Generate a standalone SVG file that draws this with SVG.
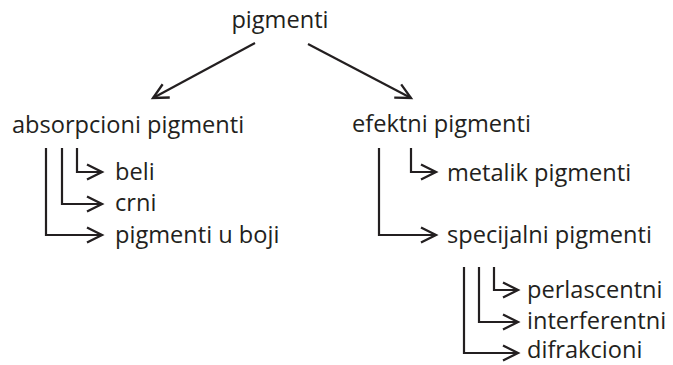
<svg xmlns="http://www.w3.org/2000/svg" width="673" height="365" viewBox="0 0 673 365">
<defs>
<style>
text{font-family:"Open Sans","Noto Sans","Liberation Sans",sans-serif;font-size:23.6px;fill:#231f20}
.c path,.c line{fill:none;stroke:#231f20;stroke-width:2.2}
</style>
<marker id="ah" markerUnits="userSpaceOnUse" viewBox="-17 -10 20 20" refX="0" refY="0" markerWidth="20" markerHeight="20" orient="auto">
<path d="M-15,-7.5 L0,0 L-15,7.5" fill="none" stroke="#231f20" stroke-width="2.3"/>
</marker>
</defs>
<rect width="673" height="365" fill="#fff"/>
<g id="n-pigmenti"><text x="280" y="28" text-anchor="middle">pigmenti</text></g>
<g id="n-absorpcioni"><text x="12" y="133">absorpcioni pigmenti</text></g>
<g id="n-efektni"><text x="352" y="132">efektni pigmenti</text></g>
<g id="n-beli"><text x="115" y="180">beli</text></g>
<g id="n-crni"><text x="115" y="211">crni</text></g>
<g id="n-boji"><text x="115" y="243">pigmenti u boji</text></g>
<g id="n-metalik"><text x="447" y="181">metalik pigmenti</text></g>
<g id="n-specijalni"><text x="447" y="243">specijalni pigmenti</text></g>
<g id="n-perlascentni"><text x="527" y="298">perlascentni</text></g>
<g id="n-interferentni"><text x="527" y="329">interferentni</text></g>
<g id="n-difrakcioni"><text x="527" y="358">difrakcioni</text></g>
<g id="connectors" class="c">
<line x1="255" y1="43" x2="153" y2="98" marker-end="url(#ah)"/>
<line x1="308" y1="44" x2="411" y2="98" marker-end="url(#ah)"/>
<path d="M77,148 V172 H102" marker-end="url(#ah)"/>
<path d="M62,148 V204 H102" marker-end="url(#ah)"/>
<path d="M46,148 V235 H102" marker-end="url(#ah)"/>
<path d="M411,148 V172 H436" marker-end="url(#ah)"/>
<path d="M379,148 V235 H436" marker-end="url(#ah)"/>
<path d="M494,267 V290 H518" marker-end="url(#ah)"/>
<path d="M479,267 V322 H518" marker-end="url(#ah)"/>
<path d="M464,267 V353 H518" marker-end="url(#ah)"/>
</g>
</svg>
